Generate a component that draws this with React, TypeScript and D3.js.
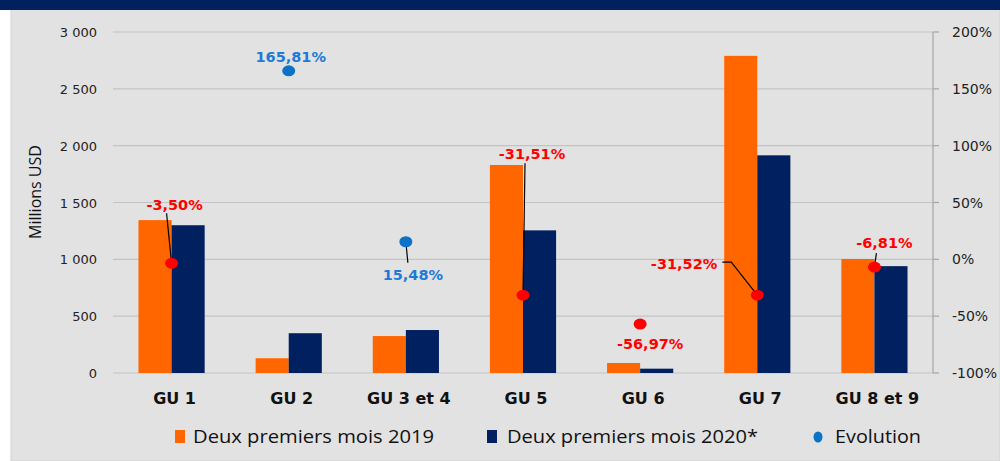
import * as d3 from 'd3';

// chart data
const categories = ['GU 1', 'GU 2', 'GU 3 et 4', 'GU 5', 'GU 6', 'GU 7', 'GU 8 et 9'];
const values2019 = [1345, 130, 325, 1830, 88, 2790, 1003];
const values2020 = [1300, 350, 378, 1255, 38, 1915, 940];
const evolution = [-0.035, 1.6581, 0.1548, -0.3151, -0.5697, -0.3152, -0.0681];
const evolutionLabels = ['-3,50%', '165,81%', '15,48%', '-31,51%', '-56,97%', '-31,52%', '-6,81%'];
const leftTicks = [0, 500, 1000, 1500, 2000, 2500, 3000];
const rightTicks = [-1, -0.5, 0, 0.5, 1, 1.5, 2];
const legendLabels = ['Deux premiers mois 2019', 'Deux premiers mois 2020*', 'Evolution'];

// label placement relative to each dot (dx, dy, anchor, leader line points)
const labelLayout: { dx: number; dy: number; anchor: string; leader: [number, number][] | null }[] = [
  { dx: 3, dy: -53, anchor: 'middle', leader: [[-5, -50], [0, 0]] },
  { dx: 2, dy: -9, anchor: 'middle', leader: null },
  { dx: 7, dy: 38, anchor: 'middle', leader: [[0, 0], [2, 21]] },
  { dx: 9, dy: -136, anchor: 'middle', leader: [[2, -132], [0, 0]] },
  { dx: 10, dy: 25, anchor: 'middle', leader: null },
  { dx: -40, dy: -26, anchor: 'end', leader: [[-35, -33], [-26, -33], [0, 0]] },
  { dx: 10, dy: -19, anchor: 'middle', leader: [[2, -14], [0, 0]] },
];

const ORANGE = '#ff6600';
const NAVY = '#002060';
const BLUE = '#0b72c6';
const RED = '#ff0000';
const GRID = '#c3c3c3';

export default function App() {
  const width = 1000;
  const height = 461;
  const plotLeft = 113;
  const plotRight = 933;
  const plotTop = 32;
  const plotBottom = 373;

  const x = d3.scaleBand<string>().domain(categories).range([plotLeft, plotRight]).padding(0);
  const xSub = d3.scaleBand<string>().domain(['a', 'b']).range([0, x.bandwidth()]).paddingInner(0).paddingOuter(0.77);
  const yLeft = d3.scaleLinear().domain([0, 3000]).range([plotBottom, plotTop]);
  const yRight = d3.scaleLinear().domain([-1, 2]).range([plotBottom, plotTop]);

  const fmtLeft = (v: number) => d3.format(',')(v).replace(/,/g, ' ');
  const fmtRight = (v: number) => `${Math.round(v * 100)}%`;
  const line = d3.line();

  return (
    <svg width={width} height={height} style={{ display: 'block', position: 'absolute', left: 0, top: 0 }}>
      <rect x={0} y={0} width={width} height={height} fill="#ffffff" />
      <rect x={11} y={8} width={width - 11} height={height - 8} fill="#e2e2e2" stroke="#d2d2d2" strokeWidth={1} />
      <rect x={0} y={0} width={width} height={10} fill={NAVY} />

      {/* gridlines */}
      {leftTicks.map((t) => (
        <line key={`g${t}`} x1={plotLeft} x2={plotRight} y1={yLeft(t)} y2={yLeft(t)} stroke={GRID} strokeWidth={1.2} />
      ))}

      {/* left axis labels */}
      {leftTicks.map((t) => (
        <text key={`l${t}`} x={97} y={yLeft(t) + 5} textAnchor="end" fontFamily="DejaVu Sans" fontSize={13} fill="#222">
          {fmtLeft(t)}
        </text>
      ))}
      <text
        transform={`translate(41,192) rotate(-90)`}
        textAnchor="middle"
        fontFamily="Open Sans"
        fontSize={16}
        fill="#111"
      >
        Millions USD
      </text>

      {/* right axis */}
      <line x1={plotRight} x2={plotRight} y1={plotTop} y2={plotBottom} stroke="#a6a6a6" strokeWidth={1.2} />
      {rightTicks.map((t) => (
        <g key={`r${t}`}>
          <line x1={plotRight} x2={plotRight + 6} y1={yRight(t)} y2={yRight(t)} stroke="#a6a6a6" strokeWidth={1.2} />
          <text x={952} y={yRight(t) + 5} fontFamily="DejaVu Sans" fontSize={14} fill="#222">
            {fmtRight(t)}
          </text>
        </g>
      ))}

      {/* bars */}
      {categories.map((c, i) => {
        const x0 = x(c) as number;
        return (
          <g key={`b${c}`}>
            <rect
              x={x0 + (xSub('a') as number)}
              y={yLeft(values2019[i])}
              width={xSub.bandwidth()}
              height={plotBottom - yLeft(values2019[i])}
              fill={ORANGE}
            />
            <rect
              x={x0 + (xSub('b') as number)}
              y={yLeft(values2020[i])}
              width={xSub.bandwidth()}
              height={plotBottom - yLeft(values2020[i])}
              fill={NAVY}
            />
          </g>
        );
      })}

      {/* category labels */}
      {categories.map((c) => (
        <text
          key={`c${c}`}
          x={(x(c) as number) + x.bandwidth() / 2 + 3}
          y={404}
          textAnchor="middle"
          fontFamily="DejaVu Sans"
          fontWeight="bold"
          fontSize={16}
          fill="#111"
        >
          {c}
        </text>
      ))}

      {/* evolution: leader lines, dots, labels */}
      {categories.map((c, i) => {
        const cx = (x(c) as number) + x.bandwidth() / 2;
        const cy = yRight(evolution[i]);
        const lay = labelLayout[i];
        const col = evolution[i] >= 0 ? BLUE : RED;
        const textCol = evolution[i] >= 0 ? '#1e7ad6' : RED;
        return (
          <g key={`e${c}`}>
            {lay.leader && (
              <path
                d={line(lay.leader.map(([px, py]) => [cx + px, cy + py] as [number, number])) as string}
                fill="none"
                stroke="#000"
                strokeWidth={1.2}
              />
            )}
            <ellipse cx={cx} cy={cy} rx={6.5} ry={5.5} fill={col} />
            <text
              x={cx + lay.dx}
              y={cy + lay.dy}
              textAnchor={lay.anchor}
              fontFamily="DejaVu Sans"
              fontWeight="bold"
              fontSize={14.5}
              fill={textCol}
            >
              {evolutionLabels[i]}
            </text>
          </g>
        );
      })}

      {/* legend */}
      <rect x={175} y={430} width={10} height={13} fill={ORANGE} />
      <text x={193} y={443} fontFamily="Open Sans" fontSize={17.5} fill="#111" textLength={241} lengthAdjust="spacingAndGlyphs">
        {legendLabels[0]}
      </text>
      <rect x={487} y={430} width={10} height={13} fill={NAVY} />
      <text x={507} y={443} fontFamily="Open Sans" fontSize={17.5} fill="#111" textLength={251} lengthAdjust="spacingAndGlyphs">
        {legendLabels[1]}
      </text>
      <ellipse cx={818} cy={437} rx={4.5} ry={5.5} fill={BLUE} />
      <text x={835} y={443} fontFamily="Open Sans" fontSize={17.5} fill="#111" textLength={86} lengthAdjust="spacingAndGlyphs">
        {legendLabels[2]}
      </text>
    </svg>
  );
}
